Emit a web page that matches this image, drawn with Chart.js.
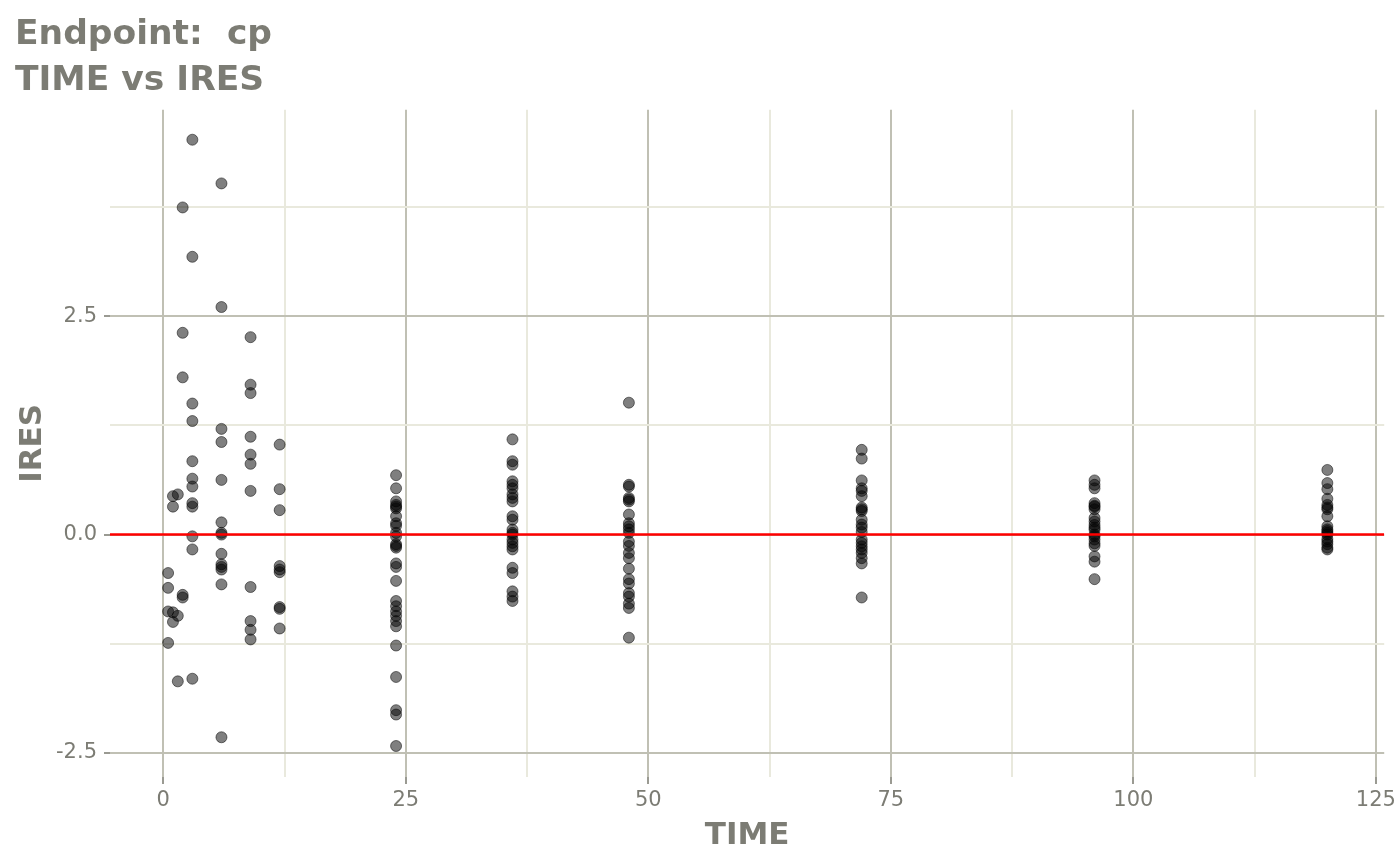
<!DOCTYPE html>
<html>
<head>
<meta charset="utf-8">
<script src="https://cdn.jsdelivr.net/npm/chart.js@4/dist/chart.umd.min.js"></script>
<style>
  html, body { margin: 0; padding: 0; background: #ffffff; }
  #wrap { width: 1400px; height: 865px; }
</style>
</head>
<body>
<div id="wrap"><canvas id="myChart" width="1400" height="865"></canvas></div>
<script>
// nominal sampling times and the IRES values read at each of them
const times = [0.5, 1, 1.5, 2, 3, 6, 9, 12, 24, 36, 48, 72, 96, 120];
const ires_t0_5 = [-0.44, -0.61, -0.88, -1.24];
const ires_t1 = [0.44, 0.32, -0.89, -1.00];
const ires_t1_5 = [0.46, -0.93, -1.68];
const ires_t2 = [3.745, 2.31, 1.80, -0.69, -0.72];
const ires_t3 = [4.52, 3.18, 1.50, 1.30, 0.84, 0.64, 0.55, 0.36, 0.32, -0.02, -0.17, -1.65];
const ires_t6 = [4.02, 2.605, 1.21, 1.06, 0.626, 0.14, 0.02, 0.0, -0.22, -0.34, -0.37, -0.40, -0.57, -2.32];
const ires_t9 = [2.26, 1.716, 1.62, 1.12, 0.915, 0.81, 0.50, -0.60, -0.99, -1.09, -1.20];
const ires_t12 = [1.03, 0.52, 0.28, -0.36, -0.40, -0.43, -0.83, -0.85, -1.075];
const ires_t24 = [0.68, 0.53, 0.38, 0.34, 0.32, 0.30, 0.21, 0.13, 0.10, 0.02, -0.02, -0.11, -0.13, -0.15,
                  -0.33, -0.37, -0.53, -0.76, -0.82, -0.88, -0.93, -0.99, -1.05, -1.27, -1.63, -2.01, -2.06, -2.42];
const ires_t36 = [1.09, 0.84, 0.80, 0.61, 0.57, 0.53, 0.46, 0.42, 0.38, 0.21, 0.17, 0.057, 0.02, 0.0,
                  -0.057, -0.095, -0.134, -0.17, -0.38, -0.44, -0.65, -0.71, -0.76];
const ires_t48 = [1.51, 0.57, 0.55, 0.42, 0.40, 0.38, 0.23, 0.13, 0.095, 0.06, 0.02, -0.08, -0.13, -0.21,
                  -0.27, -0.39, -0.51, -0.56, -0.67, -0.71, -0.79, -0.84, -1.18];
const ires_t72 = [0.97, 0.87, 0.62, 0.53, 0.50, 0.44, 0.31, 0.29, 0.27, 0.17, 0.115, 0.08, 0.03,
                  -0.057, -0.095, -0.134, -0.17, -0.21, -0.27, -0.33, -0.72];
const ires_t96 = [0.62, 0.57, 0.53, 0.36, 0.33, 0.32, 0.29, 0.19, 0.15, 0.11, 0.08, 0.057, 0.0, -0.02,
                  -0.057, -0.10, -0.13, -0.25, -0.31, -0.51];
const ires_t120 = [0.74, 0.59, 0.52, 0.41, 0.34, 0.31, 0.29, 0.21, 0.095, 0.06, 0.04, 0.02, 0.0,
                   -0.05, -0.08, -0.11, -0.15, -0.17];
const iresByTime = [ires_t0_5, ires_t1, ires_t1_5, ires_t2, ires_t3, ires_t6, ires_t9, ires_t12,
                    ires_t24, ires_t36, ires_t48, ires_t72, ires_t96, ires_t120];

const refLineY = 0;

// axis ticks
const xMajor = [0, 25, 50, 75, 100, 125];
const xMinor = [12.5, 37.5, 62.5, 87.5, 112.5];
const yMajor = [-2.5, 0, 2.5];
const yMinor = [-1.25, 1.25, 3.75];
const xRange = [-5.49, 125.86];
const yRange = [-2.775, 4.863];

const titleLines = ['Endpoint:  cp', 'TIME vs IRES'];

const textGrey = '#7c7c74';
const majorGrid = '#c0c0b4';
const minorGrid = '#e9e9dd';
const tickGrey = '#9a9a92';

let points = [];
times.forEach((t, i) => {
    iresByTime[i].forEach(v => points.push({ x: t, y: v }));
});

const isMajor = (list, v) => list.some(m => Math.abs(m - v) < 1e-9);

let ctx = document.getElementById('myChart').getContext('2d');
window.myChart = new Chart(ctx, {
    type: 'scatter',
    data: {
        datasets: [
            {
                type: 'line',
                data: [{ x: xRange[0], y: refLineY }, { x: xRange[1], y: refLineY }],
                borderColor: '#ff0000',
                borderWidth: 2.5,
                pointRadius: 0,
                fill: false,
                order: 0,
            },
            {
                data: points,
                backgroundColor: 'rgba(0, 0, 0, 0.5)',
                borderColor: 'rgba(0, 0, 0, 0.5)',
                borderWidth: 1,
                pointRadius: 5.5,
                order: 1,
            }
        ]
    },
    options: {
        responsive: false,
        animation: false,
        devicePixelRatio: 1,
        layout: {
            padding: { left: 15, right: 15, top: 0, bottom: 0 }
        },
        scales: {
            x: {
                type: 'linear',
                min: xRange[0],
                max: xRange[1],
                afterBuildTicks: (scale) => {
                    scale.ticks = xMajor.concat(xMinor).sort((a, b) => a - b).map(v => ({ value: v }));
                },
                afterFit: (scale) => { scale.height = 88; },
                border: { display: false },
                grid: {
                    color: (c) => isMajor(xMajor, c.tick.value) ? majorGrid : minorGrid,
                    lineWidth: 2,
                    tickColor: (c) => isMajor(xMajor, c.tick.value) ? tickGrey : 'rgba(0,0,0,0)',
                    tickLength: 7,
                    tickWidth: 2,
                },
                ticks: {
                    autoSkip: false,
                    maxRotation: 0,
                    padding: 4,
                    color: textGrey,
                    font: { family: 'DejaVu Sans', size: 21 },
                    callback: (v) => isMajor(xMajor, v) ? String(v) : '',
                },
                title: {
                    display: true,
                    text: 'TIME',
                    color: textGrey,
                    font: { family: 'DejaVu Sans', size: 31, weight: 'bold', lineHeight: 1.2 },
                    padding: { top: 0, bottom: 10 },
                }
            },
            y: {
                type: 'linear',
                min: yRange[0],
                max: yRange[1],
                afterBuildTicks: (scale) => {
                    scale.ticks = yMajor.concat(yMinor).sort((a, b) => a - b).map(v => ({ value: v }));
                },
                afterFit: (scale) => { scale.width = 95; },
                border: { display: false },
                grid: {
                    color: (c) => isMajor(yMajor, c.tick.value) ? majorGrid : minorGrid,
                    lineWidth: 2,
                    tickColor: (c) => isMajor(yMajor, c.tick.value) ? tickGrey : 'rgba(0,0,0,0)',
                    tickLength: 6,
                    tickWidth: 2,
                },
                ticks: {
                    autoSkip: false,
                    padding: 7,
                    color: textGrey,
                    font: { family: 'DejaVu Sans', size: 21 },
                    callback: (v) => isMajor(yMajor, v) ? v.toFixed(1) : '',
                },
                title: {
                    display: true,
                    text: 'IRES',
                    color: textGrey,
                    font: { family: 'DejaVu Sans', size: 31, weight: 'bold', lineHeight: 1 },
                    padding: { top: 2, bottom: 0 },
                }
            }
        },
        plugins: {
            title: {
                display: true,
                text: titleLines,
                align: 'start',
                color: textGrey,
                font: { family: 'DejaVu Sans', size: 34.5, weight: 'bold', lineHeight: 1.33 },
                padding: { top: 12, bottom: 6 },
            },
            legend: { display: false },
            tooltip: { enabled: false },
        }
    }
});
</script>
</body>
</html>
